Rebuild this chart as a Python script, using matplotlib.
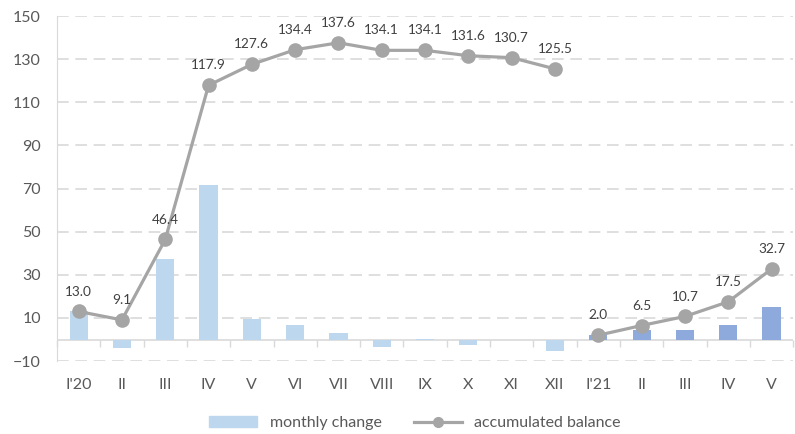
import numpy as np
import matplotlib
matplotlib.use('Agg')
from matplotlib import pyplot as plt
from matplotlib.patches import Patch
from matplotlib.lines import Line2D

months = ["I'20", 'II', 'III', 'IV', 'V', 'VI', 'VII', 'VIII', 'IX', 'X', 'XI', 'XII',
          "I'21", 'II', 'III', 'IV', 'V']
monthly_2020 = [13.0, -3.9, 37.3, 71.5, 9.7, 6.8, 3.2, -3.5, 0.3, -2.5, -0.4, -5.2]
monthly_2021 = [2.0, 4.5, 4.2, 6.8, 15.2]
balance_2020 = [13.0, 9.1, 46.4, 117.9, 127.6, 134.4, 137.6, 134.1, 134.1, 131.6, 130.7, 125.5]
balance_2021 = [2.0, 6.5, 10.7, 17.5, 32.7]
yticks = [-10, 10, 30, 50, 70, 90, 110, 130, 150]

plt.rcParams['font.family'] = ['Lato', 'DejaVu Sans']

fig = plt.figure(figsize=(7.95, 4.34), dpi=100)
ax = fig.add_axes([0.0717, 0.168, 0.926, 0.795])

x20 = np.arange(len(monthly_2020))
x21 = np.arange(len(monthly_2020), len(months))

ax.bar(x20, monthly_2020, width=0.42, color='#BDD7EE', zorder=2)
ax.bar(x21, monthly_2021, width=0.42, color='#8EA9DB', zorder=2)

line_kw = dict(color='#A5A5A5', lw=2.3, marker='o', markersize=9.5, zorder=3)
ax.plot(x20, balance_2020, **line_kw)
ax.plot(x21, balance_2021, **line_kw)

for xs, vals in ((x20, balance_2020), (x21, balance_2021)):
    for xi, v in zip(xs, vals):
        ax.annotate(f'{v:.1f}', (xi, v), xytext=(0, 10), textcoords='offset points',
                    ha='center', va='bottom', fontsize=9.8, color='#404040')

ax.set_xlim(-0.5, len(months) - 0.5)
ax.set_ylim(-10, 150)
ax.set_yticks(yticks)
ax.tick_params(axis='y', length=0, labelsize=11.5, labelcolor='#595959', pad=11.5)
ax.set_xticks(np.arange(len(months)))
ax.set_xticklabels(months)
ax.tick_params(axis='x', length=0, labelsize=11.5, labelcolor='#595959', pad=12)

ax.yaxis.grid(True, color='#D9D9D9', lw=1.2, ls=(0, (7, 4)))
ax.set_axisbelow(True)
for s in ('top', 'right', 'bottom'):
    ax.spines[s].set_visible(False)
ax.spines['left'].set_color('#D9D9D9')

# zero line with category separators, like the category axis crossing at 0
ax.axhline(0, color='#D9D9D9', lw=1.2, zorder=1)
sec = ax.secondary_xaxis(10 / 160)
sec.set_xticks(np.arange(len(months) + 1) - 0.5)
sec.set_xticklabels([])
sec.tick_params(axis='x', direction='out', length=5, color='#D9D9D9', width=1)
sec.spines['bottom'].set_visible(False)

handles = [Patch(color='#BDD7EE', label='monthly change'),
           Line2D([], [], color='#A5A5A5', lw=2.3, marker='o', markersize=7,
                  label='accumulated balance')]
fig.legend(handles=handles, loc='center', bbox_to_anchor=(0.522, 0.025), ncol=2,
           frameon=False, fontsize=11.5, labelcolor='#595959', handlelength=3,
           columnspacing=2.0)

fig.savefig('out.png', dpi=100)
